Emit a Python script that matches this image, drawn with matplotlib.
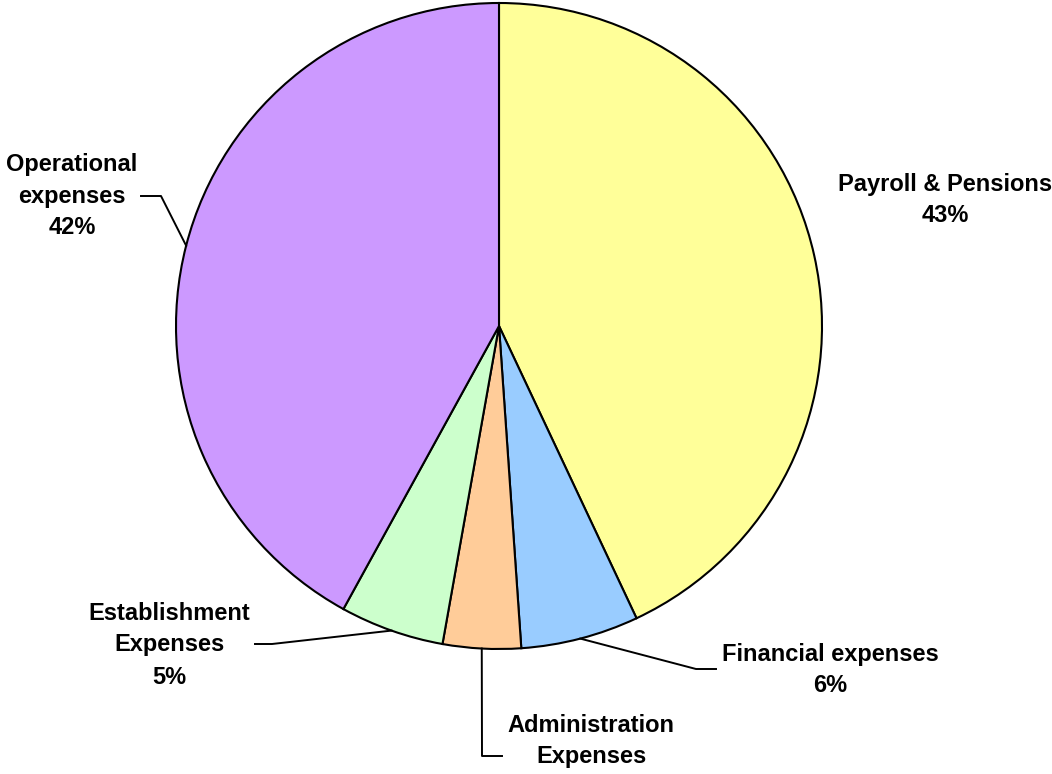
"""Expense breakdown pie chart."""

import matplotlib
matplotlib.use("Agg")
import matplotlib.pyplot as plt
import numpy as np

# Slices, clockwise from 12 o'clock.
categories = [
    "Payroll & Pensions",
    "Financial expenses",
    "Administration\nExpenses",
    "Establishment\nExpenses",
    "Operational\nexpenses",
]
shares = [43.0, 5.9, 3.9, 5.2, 42.0]
colors = ["#FFFF99", "#99CCFF", "#FFCC99", "#CCFFCC", "#CC99FF"]
# The administration percentage falls below the bottom edge in the original.
show_pct = [True, True, False, True, True]

W, H = 1052, 774
CX, CY, R = 499, H - 326, 323

# Label layout in pixel coords (y measured from the top of the image).
label_pos = [(945, 200), (830, 670), (591, 741), (169, 645), (72, 196)]
# Leader elbows: (elbow, end) in pixel coords, None = no leader.
leaders = [
    None,
    ((696, 669), (716, 669)),
    ((482, 756), (502, 756)),
    ((272, 644), (255, 644)),
    ((161, 196), (141, 196)),
]

plt.rcParams["font.family"] = ["Liberation Sans", "DejaVu Sans"]

fig = plt.figure(figsize=(W / 100, H / 100), dpi=100)
ax = fig.add_axes([0, 0, 1, 1])

wedges, _ = ax.pie(
    shares,
    colors=colors,
    startangle=90,
    counterclock=False,
    center=(CX, CY),
    radius=R,
    wedgeprops=dict(edgecolor="black", linewidth=1.5),
    frame=True,
)
ax.set_xlim(0, W)
ax.set_ylim(0, H)
ax.set_aspect("auto")
ax.axis("off")

total = sum(shares)
for i, w in enumerate(wedges):
    text = categories[i]
    if show_pct[i]:
        text += f"\n{round(shares[i] / total * 100)}%"
    lx, ly = label_pos[i]
    ax.text(
        lx, H - ly, text,
        ha="center", va="center", multialignment="center",
        fontsize=17, fontweight="bold", linespacing=1.5,
        clip_on=False,
    )
    if leaders[i] is not None:
        mid = np.deg2rad((w.theta1 + w.theta2) / 2)
        ax0 = CX + R * np.cos(mid)
        ay0 = CY + R * np.sin(mid)
        (ex, ey), (tx, ty) = leaders[i]
        ax.plot([ax0, ex, tx], [ay0, H - ey, H - ty], color="black", lw=1.4)

fig.savefig("out.png", dpi=100)
